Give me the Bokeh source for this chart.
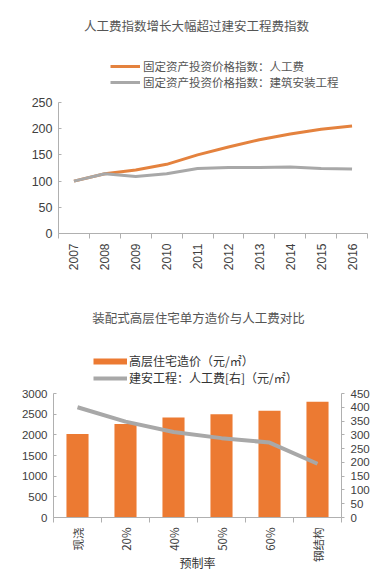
import math
from bokeh.plotting import figure
from bokeh.models import (Range1d, LinearAxis, FixedTicker, Legend, LegendItem, Label)
from bokeh.layouts import column
from bokeh.embed import file_html
from bokeh.resources import INLINE

# ---------------- data ----------------
years = ["2007", "2008", "2009", "2010", "2011", "2012", "2013", "2014", "2015", "2016"]
labor_index = [100, 114, 121, 132, 150, 165, 179, 190, 199, 205]
construction_index = [100, 114, 109, 114, 124, 126, 126, 127, 124, 123]
top_y_ticks = [0, 50, 100, 150, 200, 250]

prefab_rate = ["现浇", "20%", "40%", "50%", "60%", "钢结构"]
unit_cost = [2020, 2260, 2420, 2500, 2580, 2800]
labor_cost = [400, 348, 310, 288, 272, 195]
left_ticks = [0, 500, 1000, 1500, 2000, 2500, 3000]
right_ticks = [0, 50, 100, 150, 200, 250, 300, 350, 400, 450]

title1 = "人工费指数增长大幅超过建安工程费指数"
title2 = "装配式高层住宅单方造价与人工费对比"
legend1 = ["固定资产投资价格指数：人工费", "固定资产投资价格指数：建筑安装工程"]
legend2 = ["高层住宅造价（元/㎡）", "建安工程：人工费[右]（元/㎡）"]
xlabel2 = "预制率"

ORANGE = "#EC7A32"
ORANGE_LINE = "#E4823E"
GRAY = "#A8A8A8"
AXIS = "#B0B0B0"
TXT = "#404040"
CJK = "Noto Sans CJK SC"
LAT = "Liberation Sans"
W = 387


def style_cat_axis(ax, cats):
    centers = [i + 0.5 for i in range(len(cats))]
    ax.ticker = FixedTicker(ticks=centers, minor_ticks=list(range(len(cats) + 1)))
    ax.major_label_overrides = {c: lab for c, lab in zip(centers, cats)}
    ax.major_tick_line_color = None
    ax.minor_tick_line_color = AXIS
    ax.minor_tick_out = 5
    ax.minor_tick_in = 0
    ax.axis_line_color = AXIS
    ax.major_label_orientation = math.pi / 2
    ax.major_label_text_color = TXT
    ax.major_label_standoff = 4


def style_val_axis(ax, ticks, tin, tout, size):
    ax.ticker = FixedTicker(ticks=ticks)
    ax.bounds = (ticks[0], ticks[-1])
    ax.minor_tick_line_color = None
    ax.major_tick_in = tin
    ax.major_tick_out = tout
    ax.major_tick_line_color = AXIS
    ax.axis_line_color = AXIS
    ax.major_label_text_color = TXT
    ax.major_label_text_font = LAT
    ax.major_label_text_font_size = size
    ax.major_label_standoff = 6


# ---------------- top chart ----------------
H1, FR1 = 290, 233          # figure height, frame height (frame reaches figure top)
p1 = figure(width=W, height=H1, output_backend="svg", toolbar_location=None,
            x_range=Range1d(0, len(years)), y_range=Range1d(0, 250 * FR1 / 131),
            min_border_left=58, min_border_right=W - 367, min_border_top=0,
            min_border_bottom=H1 - FR1, frame_align=False)
p1.outline_line_color = None
p1.grid.visible = False
xs1 = [i + 0.5 for i in range(len(years))]
r_lab = p1.line(xs1, labor_index, line_color=ORANGE_LINE, line_width=3)
r_con = p1.line(xs1, construction_index, line_color=GRAY, line_width=3)
style_cat_axis(p1.xaxis[0], years)
p1.xaxis[0].major_label_text_font = LAT
p1.xaxis[0].major_label_text_font_size = "12px"
style_val_axis(p1.yaxis[0], top_y_ticks, 3, 0, "12.5px")

leg1 = Legend(items=[LegendItem(label=legend1[0], renderers=[r_lab]),
                     LegendItem(label=legend1[1], renderers=[r_con])],
              location=(52, 143), glyph_width=30, glyph_height=12, label_height=12,
              spacing=-1, padding=0, margin=0, label_standoff=3,
              border_line_color=None, background_fill_alpha=0,
              label_text_font=CJK, label_text_font_size="11.5px", label_text_color="#555555")
p1.add_layout(leg1)
p1.add_layout(Label(x=138, y=208, x_units="screen", y_units="screen", text=title1,
                    text_align="center", text_baseline="middle", text_font=CJK,
                    text_font_size="12.5px", text_color="#555555"))

# ---------------- bottom chart ----------------
H2, FR2 = 288, 227
p2 = figure(width=W, height=H2, output_backend="svg", toolbar_location=None,
            x_range=Range1d(0, len(prefab_rate)), y_range=Range1d(0, 3000 * FR2 / 124),
            min_border_left=53, min_border_right=W - 341, min_border_top=0,
            min_border_bottom=H2 - FR2, frame_align=False)
p2.extra_y_ranges = {"right": Range1d(0, 450 * FR2 / 124)}
p2.outline_line_color = None
p2.grid.visible = False
xs2 = [i + 0.5 for i in range(len(prefab_rate))]
r_bar = p2.vbar(x=xs2, top=unit_cost, width=0.46, fill_color=ORANGE, line_color=None)
r_line = p2.line(xs2, labor_cost, y_range_name="right", line_color=GRAY, line_width=4)
# legend key for the bars: a one-point line (draws nothing on the plot, shows a thick bar in the legend)
bar_key = p2.line(x=xs2[:1], y=unit_cost[:1], line_color=ORANGE, line_width=6)

style_cat_axis(p2.xaxis[0], prefab_rate)
p2.xaxis[0].major_label_text_font = CJK
p2.xaxis[0].major_label_text_font_size = "11.5px"
p2.xaxis[0].axis_label = xlabel2
p2.xaxis[0].axis_label_text_font = CJK
p2.xaxis[0].axis_label_text_font_size = "12px"
p2.xaxis[0].axis_label_text_font_style = "normal"
p2.xaxis[0].axis_label_text_color = "#333333"
p2.xaxis[0].axis_label_standoff = -11
style_val_axis(p2.yaxis[0], left_ticks, 3, 0, "11.5px")

ax_r = LinearAxis(y_range_name="right")
style_val_axis(ax_r, right_ticks, 0, 3, "11.5px")
p2.add_layout(ax_r, "right")

leg2 = Legend(items=[LegendItem(label=legend2[0], renderers=[bar_key]),
                     LegendItem(label=legend2[1], renderers=[r_line])],
              location=(40, 131), glyph_width=34, glyph_height=14, label_height=14,
              spacing=-1, padding=0, margin=0, label_standoff=2,
              border_line_color=None, background_fill_alpha=0,
              label_text_font=CJK, label_text_font_size="12px", label_text_color="#333333")
p2.add_layout(leg2)
p2.add_layout(Label(x=145, y=200, x_units="screen", y_units="screen", text=title2,
                    text_align="center", text_baseline="middle", text_font=CJK,
                    text_font_size="12.5px", text_color="#555555"))

layout = column(p1, p2, spacing=0)
open("out.html", "w").write(file_html(layout, INLINE))
